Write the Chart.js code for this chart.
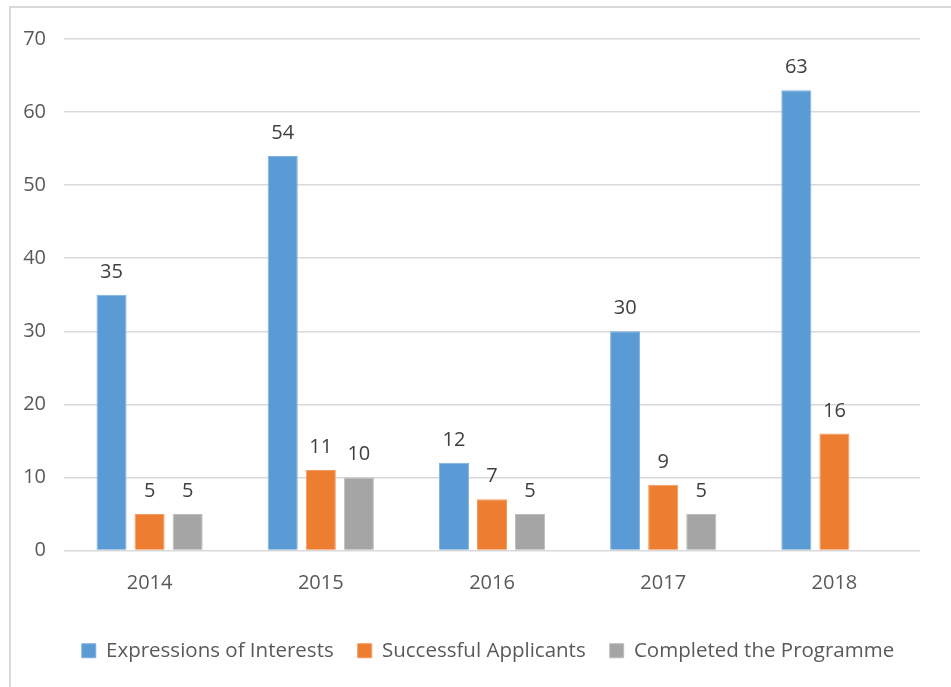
<!DOCTYPE html>
<html>
<head>
<meta charset="utf-8">
<script src="https://cdn.jsdelivr.net/npm/chart.js@4"></script>
<style>
  html, body { margin: 0; padding: 0; background: #fff; overflow: hidden; }
  #wrap { position: relative; width: 951px; height: 687px; }
  #frame { position: absolute; left: 9px; top: 6px; width: 1000px; height: 1000px;
           border: 2px solid #d9d9d9; box-sizing: border-box; pointer-events: none; }
</style>
</head>
<body>
<div id="wrap">
  <canvas id="chart" width="951" height="687"></canvas>
  <div id="frame"></div>
</div>
<script>
// chart values
const years = ['2014', '2015', '2016', '2017', '2018'];
const expressions = [35, 54, 12, 30, 63];
const successful = [5, 11, 7, 9, 16];
const completed = [5, 10, 5, 5, null];
const yTicks = [0, 10, 20, 30, 40, 50, 60, 70];

// draws the number above each bar
const valueLabels = {
    id: 'valueLabels',
    afterDatasetsDraw(chart) {
        const ctx = chart.ctx;
        ctx.save();
        ctx.font = '20px "Open Sans"';
        ctx.fillStyle = '#404040';
        ctx.textAlign = 'center';
        ctx.textBaseline = 'alphabetic';
        chart.data.datasets.forEach((ds, i) => {
            chart.getDatasetMeta(i).data.forEach((bar, j) => {
                const v = ds.data[j];
                if (v === null || v === undefined) return;
                ctx.fillText(String(v), bar.x, bar.y - 17);
            });
        });
        ctx.restore();
    }
};

// legend in the original sits centred on the whole frame, not the plot
const shiftLegend = {
    id: 'shiftLegend',
    afterLayout(chart) {
        chart.legend.left += 28;
        chart.legend.right += 28;
    }
};

const ctx = document.getElementById('chart').getContext('2d');
new Chart(ctx, {
    type: 'bar',
    data: {
        labels: years,
        datasets: [
            { label: 'Expressions of Interests', data: expressions, backgroundColor: '#5b9bd5', borderColor: '#7fb0de', borderWidth: 1 },
            { label: 'Successful Applicants', data: successful, backgroundColor: '#ed7d31', borderColor: '#f29a5e', borderWidth: 1 },
            { label: 'Completed the Programme', data: completed, backgroundColor: '#a5a5a5', borderColor: '#bdbdbd', borderWidth: 1 }
        ]
    },
    options: {
        responsive: false,
        animation: false,
        layout: { padding: { top: 39, right: 31, left: 0, bottom: 16 } },
        datasets: { bar: { categoryPercentage: 0.667, barPercentage: 0.79 } },
        scales: {
            x: {
                grid: { display: false, drawTicks: false },
                border: { display: false },
                ticks: { color: '#595959', font: { family: 'Open Sans', size: 20 }, padding: 21 }
            },
            y: {
                min: 0,
                max: 70,
                afterBuildTicks: (scale) => { scale.ticks = yTicks.map(v => ({ value: v })); },
                afterFit: (scale) => { scale.width = 64; },
                grid: { color: '#d9d9d9', lineWidth: 1.5, drawTicks: false },
                border: { display: false },
                ticks: { color: '#595959', font: { family: 'Open Sans', size: 20 }, padding: 18 }
            }
        },
        plugins: {
            legend: {
                position: 'bottom',
                labels: {
                    color: '#595959',
                    font: { family: 'Open Sans', size: 20.5 },
                    boxWidth: 14,
                    boxHeight: 14,
                    padding: 24
                }
            },
            tooltip: { enabled: false }
        }
    },
    plugins: [valueLabels, shiftLegend]
});
</script>
</body>
</html>
